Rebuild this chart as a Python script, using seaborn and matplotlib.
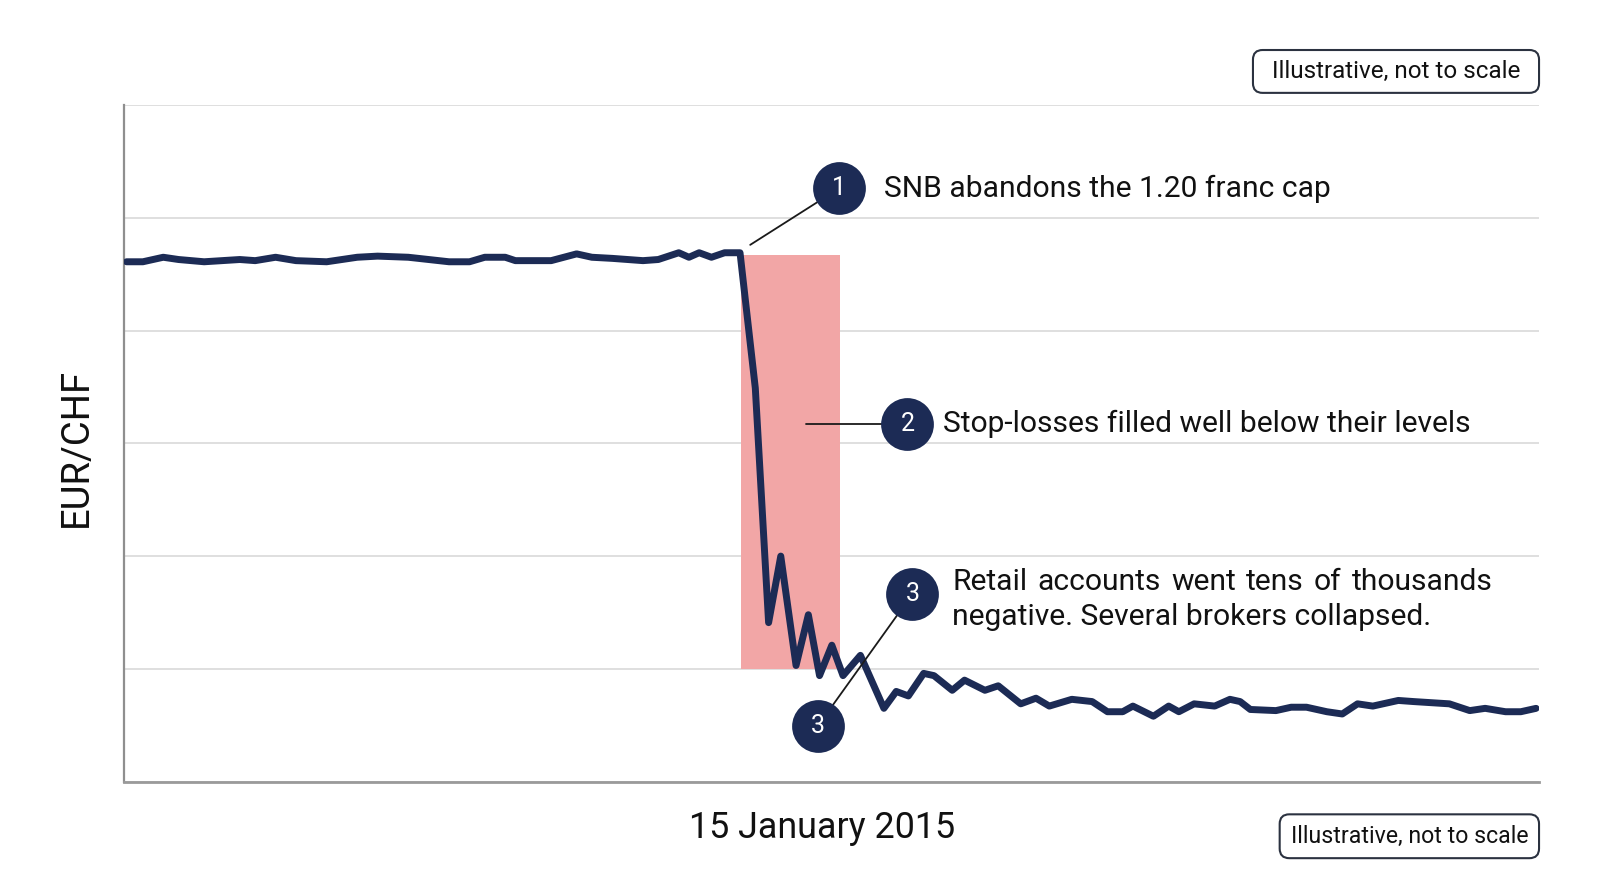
import numpy as np
import pandas as pd
import seaborn as sns
import matplotlib.pyplot as plt
from matplotlib.patches import FancyBboxPatch

# EUR/CHF path, illustrative units (not to scale)
t_vals = [0.14, 1.30, 2.74, 3.82, 5.63, 8.15, 9.24, 10.68, 12.12, 14.29,
          16.45, 17.89, 20.06, 22.94, 24.39, 25.47, 26.91, 27.63, 30.16, 31.96,
          33.04, 34.49, 36.65, 37.73, 39.18, 39.90, 40.62, 41.49, 42.42, 43.51,
          44.59, 45.53, 46.39, 47.47, 48.34, 49.13, 50.00, 50.79, 52.02, 53.68,
          54.55, 55.41, 56.49, 57.22, 58.51, 59.38, 60.82, 61.76, 63.35, 64.43,
          65.37, 66.96, 68.40, 69.48, 70.56, 71.28, 72.73, 73.81, 74.53, 75.61,
          77.06, 78.14, 78.86, 79.58, 81.39, 82.47, 83.55, 84.99, 86.08, 87.16,
          88.24, 90.04, 91.13, 93.65, 95.09, 96.18, 97.62, 98.70, 99.78]
rate_vals = [4.61, 4.61, 4.65, 4.63, 4.61, 4.63, 4.62, 4.65, 4.62, 4.61,
             4.65, 4.66, 4.65, 4.61, 4.61, 4.65, 4.65, 4.62, 4.62, 4.68,
             4.65, 4.64, 4.62, 4.63, 4.69, 4.65, 4.69, 4.65, 4.69, 4.69,
             3.49, 1.41, 2.00, 1.03, 1.48, 0.94, 1.21, 0.94, 1.12, 0.65,
             0.80, 0.76, 0.96, 0.94, 0.81, 0.90, 0.81, 0.85, 0.69, 0.74,
             0.67, 0.73, 0.71, 0.62, 0.62, 0.67, 0.58, 0.67, 0.62, 0.69,
             0.67, 0.73, 0.71, 0.64, 0.63, 0.66, 0.66, 0.62, 0.60, 0.69,
             0.67, 0.72, 0.71, 0.69, 0.63, 0.65, 0.62, 0.62, 0.65]

# slippage window (shaded)
window_t = [43.58, 50.58]
window_low, window_high = 1.0, 4.67

# callouts
callout_nums = ["1", "2", "3"]
callout_xy = [(50.5, 5.26), (55.34, 3.17), (55.70, 1.665)]
callout_text_xy = [(53.68, 5.26), (57.86, 3.17)]
callout_texts = ["SNB abandons the 1.20 franc cap",
                 "Stop-losses filled well below their levels"]
third_line1 = "Retail accounts went tens of thousands"
third_line2 = "negative. Several brokers collapsed."
third_x, third_y1, third_y2 = 58.5, 1.77, 1.46
third_width = 38.2  # justified width of the first line, in t units
leader_from = [(44.23, 4.76), (48.2, 3.17), (48.99, 0.49)]
extra_marker = (48.99, 0.49)

navy = "#1c2b55"
ink = "#111111"

sns.set_theme(style="white")
plt.rcParams["font.family"] = ["Roboto", "DejaVu Sans"]

fig = plt.figure(figsize=(16, 8.93), dpi=100)
ax = fig.add_axes([0.0778, 0.1247, 0.8842, 0.7577])

df = pd.DataFrame({"t": t_vals, "rate": rate_vals})

ax.fill_between(window_t, window_low, window_high, color="#f2a6a6", lw=0, zorder=1)
sns.lineplot(data=df, x="t", y="rate", ax=ax, color=navy, linewidth=5.0,
             sort=False, zorder=3, solid_joinstyle="round",
             solid_capstyle="round")

ax.set_xlim(0, 100)
ax.set_ylim(0, 6)
ax.set_yticks(range(0, 7))
ax.yaxis.grid(True, color="#d9d9d9", linewidth=1.2)
ax.xaxis.grid(False)
ax.set_xticks([])
ax.tick_params(left=False, labelleft=False)
ax.set_xlabel("")
ax.set_ylabel("")
for s in ["top", "right"]:
    ax.spines[s].set_visible(False)
ax.spines["left"].set_color("#8f8f8f")
ax.spines["left"].set_linewidth(1.6)
ax.spines["bottom"].set_color("#9a9a9a")
ax.spines["bottom"].set_linewidth(2)

# leader lines
for (x0, y0), (x1, y1) in zip(leader_from, callout_xy):
    ax.plot([x0, x1], [y0, y1], color="#1a1a1a", lw=1.3, zorder=4)

# numbered markers
all_markers = callout_xy + [extra_marker]
all_nums = callout_nums + ["3"]
for (x, y), n in zip(all_markers, all_nums):
    ax.plot(x, y, marker="o", ms=38, color=navy, mec=navy, mew=0,
            zorder=6, clip_on=False)
    ax.text(x, y, n, color="white", fontsize=18, ha="center", va="center",
            zorder=7)

for (x, y), txt in zip(callout_text_xy, callout_texts):
    ax.text(x, y, txt, fontsize=21.6, color=ink, ha="left", va="center", zorder=7)

# third callout: first line justified word by word
renderer = fig.canvas.get_renderer()
words = third_line1.split()
word_objs = [ax.text(third_x, third_y1, w, fontsize=21.6, color=ink, ha="left",
                     va="center", zorder=7) for w in words]
inv = ax.transData.inverted()
widths = []
for w in word_objs:
    bb = w.get_window_extent(renderer)
    x_a = inv.transform((bb.x0, bb.y0))[0]
    x_b = inv.transform((bb.x1, bb.y0))[0]
    widths.append(x_b - x_a)
gap = (third_width - sum(widths)) / (len(words) - 1)
xpos = third_x
for w, wd in zip(word_objs, widths):
    w.set_x(xpos)
    xpos += wd + gap
ax.text(third_x, third_y2, third_line2, fontsize=21.6, color=ink, ha="left",
        va="center", zorder=7)

fig.text(0.0478, 0.4995, "EUR/CHF", rotation=90, fontsize=27.5, color=ink,
         ha="center", va="center")
fig.text(0.514, 0.0733, "15 January 2015", fontsize=25.8, color=ink,
         ha="center", va="center")

# "not to scale" badges
badge_boxes = [(0.7831, 0.896, 0.9619, 0.944), (0.7998, 0.039, 0.9619, 0.0881)]
badge_sizes = [17.5, 16.7]
for (x0, y0, x1, y1), fs in zip(badge_boxes, badge_sizes):
    patch = FancyBboxPatch((x0, y0), x1 - x0, y1 - y0,
                           boxstyle="round,pad=0,rounding_size=0.006",
                           transform=fig.transFigure, fc="white", ec="#2b3240",
                           lw=1.5, mutation_aspect=1.79)
    fig.patches.append(patch)
    fig.text((x0 + x1) / 2, (y0 + y1) / 2, "Illustrative, not to scale",
             fontsize=fs, color=ink, ha="center", va="center")

fig.savefig("out.png", dpi=100, facecolor="white")
